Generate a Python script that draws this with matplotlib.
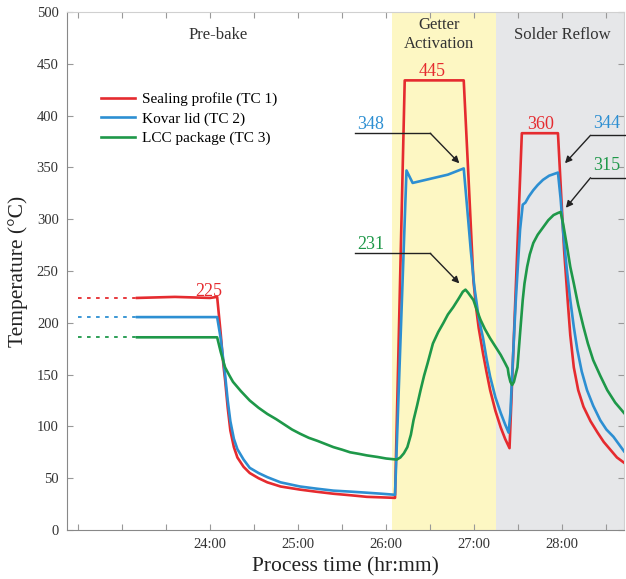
import matplotlib.pyplot as plt

# temps (degC) vs process time (hours)
t_dotted = [22.5, 23.17]
pre_levels = [224, 205.5, 186]

red_t = [23.17, 23.6, 24.0, 24.08, 24.12, 24.15, 24.17, 24.20, 24.23, 24.27, 24.31, 24.38, 24.45,
         24.55, 24.65, 24.8, 25.02, 25.2, 25.4, 25.6, 25.78, 25.95, 26.10,
         26.21, 26.88, 26.94, 26.99, 27.02, 27.05, 27.10, 27.14, 27.18, 27.24, 27.30, 27.35, 27.40,
         27.54, 27.95, 27.99, 28.02, 28.06, 28.09, 28.13, 28.18, 28.24, 28.32, 28.40, 28.47,
         28.55, 28.62, 28.70]
red_T = [224, 225, 224, 225, 190, 160, 145, 118, 96, 80, 70, 61, 55,
         50, 46, 42, 39, 37, 35, 33.5, 32, 31.5, 31,
         434, 434, 330, 241, 215, 195, 170, 152, 135, 115, 99, 88, 79,
         383, 383, 318, 270, 222, 188, 157, 135, 119, 105, 94, 85,
         77, 70, 65]

blue_t = [23.17, 24.08, 24.12, 24.17, 24.20, 24.23, 24.27, 24.31, 24.38, 24.45, 24.55, 24.65,
          24.8, 25.02, 25.2, 25.4, 25.6, 25.78, 25.95, 26.10,
          26.23, 26.30, 26.5, 26.7, 26.88, 26.92, 26.96, 27.0, 27.05, 27.10, 27.14, 27.18,
          27.24, 27.30, 27.35, 27.39, 27.41, 27.43, 27.47, 27.52, 27.55, 27.58, 27.62, 27.67,
          27.72, 27.78, 27.85, 27.95, 27.98, 28.01, 28.05, 28.09, 28.13, 28.17, 28.22, 28.28,
          28.35, 28.43, 28.50, 28.58, 28.64, 28.70]
blue_T = [205.5, 205.5, 185, 150, 125, 105, 88, 78, 68, 60, 55, 51,
          46, 42, 40, 38, 37, 36, 35, 34,
          347, 335, 339, 343, 349, 310, 270, 235, 205, 185, 165, 148,
          128, 113, 102, 94, 113, 150, 220, 290, 314, 316, 322, 328,
          333, 338, 342, 345, 320, 287, 252, 222, 196, 174, 153, 135,
          120, 106, 97, 90, 83, 76]

green_t = [23.17, 24.08, 24.12, 24.17, 24.22, 24.26, 24.35, 24.45, 24.55, 24.65, 24.75, 24.84,
           24.93, 25.02, 25.12, 25.22, 25.31, 25.40, 25.50, 25.59, 25.69, 25.78, 25.9, 26.0,
           26.12, 26.16, 26.20, 26.24, 26.28, 26.31, 26.35, 26.39, 26.43, 26.47, 26.53, 26.59,
           26.65, 26.70, 26.76, 26.82, 26.87, 26.90, 26.93, 26.99, 27.03, 27.07, 27.12, 27.18,
           27.24, 27.30, 27.35, 27.38, 27.39, 27.41, 27.43, 27.45, 27.49, 27.52, 27.55, 27.57,
           27.60, 27.63, 27.67, 27.72, 27.78, 27.84, 27.90, 27.95, 27.98, 28.01, 28.06, 28.09,
           28.13, 28.18, 28.24, 28.29, 28.35, 28.43, 28.51, 28.60, 28.70]
green_T = [186, 186, 172, 157, 149, 143, 134, 125, 118, 112, 107, 102,
           97, 93, 89, 86, 83, 80, 77.5, 75, 73.5, 72, 70.5, 69,
           68, 70, 74, 80, 92, 106, 120, 135, 149, 161, 180, 191,
           200, 208, 215, 223, 230, 232, 229, 222, 212, 203, 194, 185,
           177, 169, 161, 156, 150, 143, 140, 143, 157, 190, 222, 238,
           254, 266, 277, 285, 292, 299, 304, 306, 307, 295, 270, 254,
           238, 217, 196, 180, 164, 149, 135, 123, 113]

labels = ['Sealing profile (TC 1)', 'Kovar lid (TC 2)', 'LCC package (TC 3)']
colors = ['#e52b2f', '#2d8fd2', '#1e9849']

tick_pos = [22.5, 23.0, 23.5, 24.0, 24.5, 25.0, 25.5, 26.0, 26.5, 27.0, 27.5, 28.0, 28.5]
tick_lab = ['', '', '', '24:00', '', '25:00', '', '26:00', '', '27:00', '', '28:00', '']

phases = [('Pre-bake', 24.09), ('Getter\nActivation', 26.6), ('Solder Reflow', 28.0)]
getter_span = (26.06, 27.25)
reflow_span = (27.25, 28.8)

# (text, colour index, label pos, line start, line end/arrow tail, arrow tip)
peaks = [('225', 0, (23.99, 222), None, None, None),
         ('445', 0, (26.52, 434), None, None, None),
         ('360', 0, (27.75, 383), None, None, None),
         ('348', 1, (25.82, 383), (25.65, 383), (26.5, 383), (26.83, 354)),
         ('231', 2, (25.82, 267), (25.65, 267), (26.5, 267), (26.83, 238)),
         ('344', 1, (28.50, 384), (28.75, 381), (28.32, 381), (28.03, 354)),
         ('315', 2, (28.50, 344), (28.75, 340), (28.32, 340), (28.04, 311))]

plt.rcParams['font.family'] = ['Liberation Serif', 'DejaVu Serif']

fig = plt.figure(figsize=(6.26, 5.79), dpi=100)
ax = fig.add_axes([67 / 626, 49 / 579, 557 / 626, 518 / 579])

ax.axvspan(*getter_span, color='#fdf7c3', lw=0, zorder=0)
ax.axvspan(*reflow_span, color='#e6e7e9', lw=0, zorder=0)

series = [(red_t, red_T), (blue_t, blue_T), (green_t, green_T)]
for (t, T), c, lab, lev in zip(series, colors, labels, pre_levels):
    ax.plot(t, T, color=c, lw=1.9, label=lab, zorder=3, solid_joinstyle='round')
    ax.plot(t_dotted, [lev, lev], color=c, lw=1.3, ls=(0, (2, 3)), zorder=3)

for txt, x in phases:
    ax.text(x, 478, txt, ha='center', va='center', fontsize=12, color='#333333',
            linespacing=1.25)

for txt, ci, pos, p0, p1, tip in peaks:
    ax.text(pos[0], pos[1], txt, ha='center', va='bottom', fontsize=13, color=colors[ci],
            zorder=5)
    if p0 is not None:
        ax.plot([p0[0], p1[0]], [p0[1], p1[1]], color='#222222', lw=1.0, zorder=4, clip_on=False)
        ax.annotate('', xy=tip, xytext=p1,
                    arrowprops=dict(arrowstyle='-|>', color='#222222', lw=1.0,
                                    mutation_scale=10, shrinkA=0, shrinkB=0), zorder=4)

ax.set_xlim(22.375, 28.70)
ax.set_ylim(0, 500)
ax.set_xticks(tick_pos)
ax.set_xticklabels(tick_lab)
ax.set_yticks(range(0, 501, 50))
ax.tick_params(direction='in', length=4, width=0.8, color='#999999', labelsize=10.5,
               labelcolor='#333333', top=True, right=True, pad=6)
for side in ['left', 'bottom']:
    ax.spines[side].set_color('#888888')
for side in ['top', 'right']:
    ax.spines[side].set_color('#d0d0d0')

ax.set_xlabel('Process time (hr:mm)', fontsize=15.5, color='#222222', labelpad=4)
ax.set_ylabel('Temperature (°C)', fontsize=15.5, color='#222222', labelpad=6)

ax.legend(loc='upper left', bbox_to_anchor=(0.05, 0.857), frameon=False, fontsize=11,
          handlelength=2.2, handletextpad=0.5, labelspacing=0.38, borderaxespad=0)

fig.savefig('out.png', dpi=100)
